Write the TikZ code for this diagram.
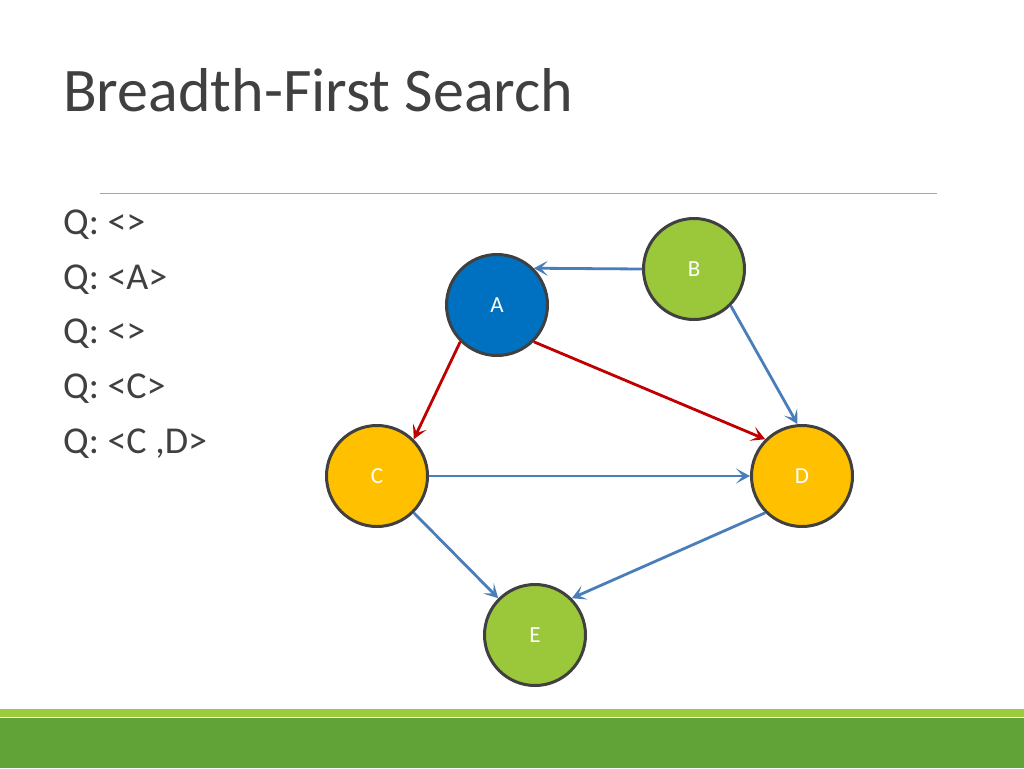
\documentclass[tikz,border=0pt]{standalone}
\usepackage{fontspec}
\setmainfont{Carlito}
\usetikzlibrary{arrows.meta}

\definecolor{txtgray}{HTML}{404040}
\definecolor{rulegray}{HTML}{A6A6A6}
\definecolor{vblue}{HTML}{0070C0}
\definecolor{vgreen}{HTML}{9BC83B}
\definecolor{vyellow}{HTML}{FFC000}
\definecolor{eblue}{HTML}{4A7EBB}
\definecolor{ered}{HTML}{C00000}
\definecolor{barlight}{HTML}{9CCB3B}
\definecolor{bardark}{HTML}{62A337}

\begin{document}
\begin{tikzpicture}[x=1pt,y=-1pt,
  vertex/.style={circle,draw=txtgray,line width=3pt,minimum size=101pt,
                 inner sep=0pt,text=white,font=\fontsize{23}{23}\selectfont},
  tree/.style={draw=ered,line width=2.8pt},
  plain/.style={draw=eblue,line width=2.8pt}]
\useasboundingbox (0,0) rectangle (1024,768);
\fill[white] (0,0) rectangle (1024,768);

% title and rule
\node (title) [anchor=base west,inner sep=0pt,text=txtgray,
  font=\fontsize{62}{62}\selectfont] at (63,111) {Breadth-First Search};
\draw[rulegray,line width=1pt] (100,193) -- (937,193);

% queue states
\node (queue) [anchor=base west,inner sep=0pt,align=left,text=txtgray,
  font=\fontsize{38}{54.7}\selectfont] at (63,453.3)
  {Q: <>\\Q: <A>\\Q: <>\\Q: <C>\\Q: <C ,D>};

% graph
\node (A) [vertex,fill=vblue]   at (497,305) {A};
\node (B) [vertex,fill=vgreen]  at (694,269) {B};
\node (C) [vertex,fill=vyellow] at (377,476) {C};
\node (D) [vertex,fill=vyellow] at (802,476) {D};
\node (E) [vertex,fill=vgreen]  at (535,635) {E};

\path[-{Stealth[length=14pt,width=15pt,inset=7pt]}]
(B.west)   edge [plain] (A.45)
(B.-45)    edge [plain] (D.95)
(C)        edge [plain] (D)
(C.-45)    edge [plain] (E.135)
(D.-135)   edge [plain] (E.45)
(A.225)    edge [tree]  (C.45)
(A.-45)    edge [tree]  (D.135)
;

% footer bar
\fill[barlight] (0,709) rectangle (1024,717);
\fill[bardark]  (0,717.5) rectangle (1024,768);
\end{tikzpicture}
\end{document}
